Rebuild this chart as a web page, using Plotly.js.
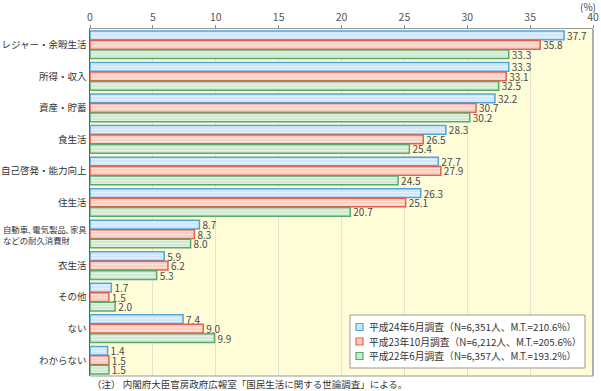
<!DOCTYPE html>
<html><head><meta charset="utf-8">
<script src="https://cdn.plot.ly/plotly-3.0.1.min.js"></script>
<style>html,body{margin:0;padding:0;background:#fff;}#chart{width:601px;height:391px;}</style>
</head><body><div id="chart"></div>
<script>
const categories = ["レジャー・余暇生活","所得・収入","資産・貯蓄","食生活","自己啓発・能力向上","住生活","自動車､電気製品､家具などの耐久消費財","衣生活","その他","ない","わからない"];
const h24 = [37.7,33.3,32.2,28.3,27.7,26.3,8.7,5.9,1.7,7.4,1.4];
const h23 = [35.8,33.1,30.7,26.5,27.9,25.1,8.3,6.2,1.5,9.0,1.5];
const h22 = [33.3,32.5,30.2,25.4,24.5,20.7,8.0,5.3,2.0,9.9,1.5];
const seriesNames = ["平成24年6月調査（N=6,351人、M.T.=210.6%）","平成23年10月調査（N=6,212人、M.T.=205.6%）","平成22年6月調査（N=6,357人、M.T.=193.2%）"];
const tickLabels = ["レジャー・余暇生活","所得・収入","資産・貯蓄","食生活","自己啓発・能力向上","住生活","","衣生活","その他","ない","わからない"];
const xTicks = [0,5,10,15,20,25,30,35,40];

const font = "'Noto Sans CJK JP', 'Noto Sans', sans-serif";
const styles = [
  {fill:"#cfe6f8", line:"#4ea6e0", fg:"#e4f1fb"},
  {fill:"#f8d0c4", line:"#e8604a", fg:"#fbe2da"},
  {fill:"#d0e9d3", line:"#5aaa6a", fg:"#e3f2e5"}
];
const vals = [h24,h23,h22];
const traces = vals.map((v,i)=>({
  type:"bar", orientation:"h", x:v, y:categories, name:seriesNames[i],
  marker:{color:styles[i].fill, line:{color:styles[i].line, width:1.5},
    pattern:{shape:"-", fgcolor:styles[i].fg, bgcolor:styles[i].fill, size:3, solidity:0.4}},
  text:v.map(x=>x.toFixed(1)), textposition:"outside", cliponaxis:false, constraintext:"none", textangle:0,
  textfont:{family:font, size:10, color:"#4a4a4a"}, hoverinfo:"skip", showlegend:false
}));

const W=601,H=391,L=90,R=8,T=29,B=15;
const pw=W-L-R, ph=H-T-B;
const px=x=>(x-L)/pw, py=y=>(H-B-y)/ph;

const shapes=[{type:"line", xref:"paper", yref:"paper", x0:1, x1:1, y0:0, y1:1, line:{color:"#999", width:1.5}},
              {type:"line", xref:"paper", yref:"paper", x0:0, x1:1, y0:0, y1:0, line:{color:"#999", width:1}},
              {type:"rect", xref:"paper", yref:"paper", x0:px(350), x1:px(585), y0:py(368), y1:py(315),
               fillcolor:"#ffffff", line:{color:"#9a9a9a", width:1}}];
const annotations=[
  {xref:"paper", yref:"paper", x:px(588), y:1, yshift:23, xanchor:"center", yanchor:"middle", text:"(%)", showarrow:false,
   font:{family:font, size:10, color:"#444"}},
  {xref:"paper", yref:"y", x:px(1), y:categories[6], xanchor:"left", yanchor:"middle", align:"left",
   text:"自動車､電気製品､家具<br>などの耐久消費財", showarrow:false, font:{family:font, size:8.4, color:"#333"}},
  {xref:"paper", yref:"paper", x:0, y:0, yshift:-8, xanchor:"left", yanchor:"middle", align:"left",
   text:"（注） 内閣府大臣官房政府広報室「国民生活に関する世論調査」による。", showarrow:false,
   font:{family:font, size:9.5, color:"#333"}}
];
const rowsY=[327,341.5,356];
seriesNames.forEach((n,i)=>{
  shapes.push({type:"rect", xref:"paper", yref:"paper", x0:px(356), x1:px(363), y0:py(rowsY[i]+3.5), y1:py(rowsY[i]-3.5),
    fillcolor:styles[i].fill, line:{color:styles[i].line, width:1.2}});
  annotations.push({xref:"paper", yref:"paper", x:px(367), y:py(rowsY[i]), xanchor:"left", yanchor:"middle",
    text:n, showarrow:false, font:{family:font, size:9.8, color:"#333"}});
});

const layout = {
  width:W, height:H,
  margin:{l:L, r:R, t:T, b:B},
  paper_bgcolor:"#ffffff", plot_bgcolor:"#fffcd8",
  barmode:"group", bargap:0.1, bargroupgap:0.08,
  showlegend:false,
  xaxis:{side:"top", range:[0,40], tickvals:xTicks, ticks:"outside", ticklen:3, tickcolor:"#888",
    showgrid:true, gridcolor:"#e4e2cc", gridwidth:1, zeroline:false, showline:true, linecolor:"#999", linewidth:1,
    tickfont:{family:font, size:10.5, color:"#555"}, fixedrange:true, automargin:false},
  yaxis:{autorange:"reversed", tickvals:categories, ticktext:tickLabels, ticks:"", showline:true, linecolor:"#666", linewidth:1.5,
    tickfont:{family:font, size:9.5, color:"#333"}, showgrid:false, fixedrange:true, automargin:false},
  shapes:shapes,
  annotations:annotations
};
Plotly.newPlot("chart", traces, layout, {displayModeBar:false, staticPlot:true});
</script></body></html>
